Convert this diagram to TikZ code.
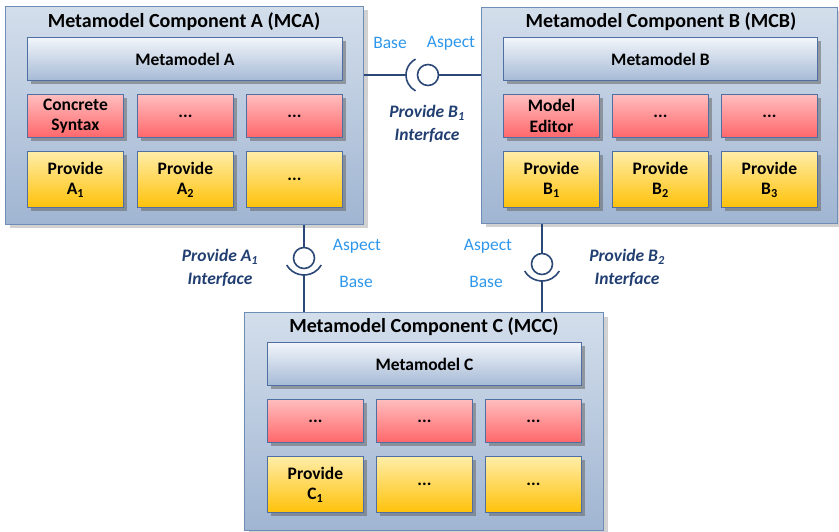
\documentclass[tikz,border=0pt]{standalone}
\usepackage{fontspec}
\setmainfont{Carlito}
\usetikzlibrary{shadows}
\definecolor{outertop}{HTML}{D3DEEB}
\definecolor{outerbot}{HTML}{A0B5D2}
\definecolor{outerline}{HTML}{6F8CB6}
\definecolor{innerline}{HTML}{4F6FA2}
\definecolor{mmtop}{HTML}{F2F5FA}
\definecolor{mmbot}{HTML}{A6BAD6}
\definecolor{redtop}{HTML}{FFBDBE}
\definecolor{redbot}{HTML}{FF676B}
\definecolor{yeltop}{HTML}{FFEDA8}
\definecolor{yelbot}{HTML}{FFC20A}
\definecolor{conn}{HTML}{2B4877}
\definecolor{lbl}{HTML}{2E97EC}
\definecolor{ifc}{HTML}{223F72}
\begin{document}
\begin{tikzpicture}[x=1pt,y=-1pt,
  box/.style={rectangle, anchor=north west, inner sep=0pt, align=center,
    font=\fontsize{17.5}{20.5}\selectfont\bfseries},
  outerbox/.style={box, draw=outerline, line width=1pt, top color=outertop, bottom color=outerbot,
    drop shadow={shadow xshift=4pt, shadow yshift=-4pt, fill=black!45, opacity=0.4}},
  mmbox/.style={box, draw=innerline, line width=0.9pt, top color=mmtop, bottom color=mmbot,
    minimum width=315pt, minimum height=43pt,
    drop shadow={shadow xshift=4pt, shadow yshift=-4pt, fill=black!60, opacity=0.55}},
  redbox/.style={box, draw=innerline, line width=0.9pt, top color=redtop, bottom color=redbot,
    minimum width=96pt, minimum height=43pt,
    drop shadow={shadow xshift=4pt, shadow yshift=-4pt, fill=black!60, opacity=0.55}},
  yelbox/.style={box, draw=innerline, line width=0.9pt, top color=yeltop, bottom color=yelbot,
    minimum width=96pt, minimum height=56pt,
    drop shadow={shadow xshift=4pt, shadow yshift=-4pt, fill=black!60, opacity=0.55}},
  title/.style={font=\fontsize{20}{24}\selectfont\bfseries, inner sep=0pt},
  conline/.style={draw=conn, line width=1.6pt},
  ball/.style={circle, draw=conn, line width=1.6pt, minimum size=21pt, inner sep=0pt, fill=white},
  lab/.style={text=lbl, font=\fontsize{17.5}{20}\selectfont, inner sep=0pt},
  iface/.style={text=ifc, font=\fontsize{17.5}{23}\selectfont\bfseries\itshape, align=center, inner sep=0pt}
]
\useasboundingbox (0,0) rectangle (839,532);

% ---------- Component A ----------
\node[outerbox, minimum width=358pt, minimum height=218pt] (A) at (5,6) {};
\node[title] (At) at (184,22) {Metamodel Component A (MCA)};
\node[mmbox] (Amm) at (27,37) {Metamodel A};
\node[redbox] (Ar1) at (27,94) {Concrete\\Syntax};
\node[redbox] (Ar2) at (137,94) {...};
\node[redbox] (Ar3) at (246,94) {...};
\node[yelbox] (Ay1) at (27,151) {Provide\\A\textsubscript{1}};
\node[yelbox] (Ay2) at (137,151) {Provide\\A\textsubscript{2}};
\node[yelbox] (Ay3) at (246,151) {...};

% ---------- Component B ----------
\node[outerbox, minimum width=356pt, minimum height=216pt] (B) at (481,7) {};
\node[title] (Bt) at (661,22) {Metamodel Component B (MCB)};
\node[mmbox, minimum width=314pt] (Bmm) at (503,37) {Metamodel B};
\node[redbox] (Br1) at (503,94) {Model\\Editor};
\node[redbox] (Br2) at (612,94) {...};
\node[redbox] (Br3) at (721,94) {...};
\node[yelbox] (By1) at (503,151) {Provide\\B\textsubscript{1}};
\node[yelbox] (By2) at (612,151) {Provide\\B\textsubscript{2}};
\node[yelbox] (By3) at (721,151) {\raisebox{2.5pt}{\parbox{90pt}{\centering Provide\\B\textsubscript{3}}}};

% ---------- Component C ----------
\node[outerbox, minimum width=359pt, minimum height=218pt] (C) at (244,312) {};
\node[title] (Ct) at (424,327) {Metamodel Component C (MCC)};
\node[mmbox, minimum width=314pt] (Cmm) at (267,342) {Metamodel C};
\node[redbox] (Cr1) at (267,399) {...};
\node[redbox] (Cr2) at (376,399) {...};
\node[redbox] (Cr3) at (485,399) {...};
\node[yelbox] (Cy1) at (267,456) {Provide\\C\textsubscript{1}};
\node[yelbox] (Cy2) at (376,456) {...};
\node[yelbox] (Cy3) at (485,456) {...};

% ---------- Interface A-B (horizontal) ----------
\node[ball] (bB) at (428,75) {};
\coordinate (sB) at (424,75);
\draw[conline] (A.east |- bB) -- ([shift={(180:18pt)}]sB);
\draw[conline] ([shift={(118:18pt)}]sB) arc[start angle=118, end angle=242, radius=18pt];
\draw[conline] (bB.east) -- (B.west |- bB);
\node[lab] (lBase1) at (390,43) {Base};
\node[lab] (lAsp1) at (451,43) {Aspect};
\node[iface] (iB1) at (427,124) {Provide B\textsubscript{1}\\Interface};

% ---------- Interface A-C (vertical) ----------
\node[ball] (bA) at (304,258) {};
\coordinate (sA) at (304,255);
\draw[conline] (bA |- A.south) -- (bA.north);
\draw[conline] ([shift={(210:20pt)}]sA) arc[start angle=210, end angle=330, radius=20pt];
\draw[conline] ([shift={(270:20pt)}]sA) -- (bA |- C.north);
\node[lab] (lAsp2) at (357,246) {Aspect};
\node[lab] (lBase2) at (356,282) {Base};
\node[iface] (iA1) at (220,268) {Provide A\textsubscript{1}\\Interface};

% ---------- Interface B-C (vertical) ----------
\node[ball] (bC) at (542,264) {};
\coordinate (sC) at (542,261);
\draw[conline] (bC |- B.south) -- (bC.north);
\draw[conline] ([shift={(210:20pt)}]sC) arc[start angle=210, end angle=330, radius=20pt];
\draw[conline] ([shift={(270:20pt)}]sC) -- (bC |- C.north);
\node[lab] (lAsp3) at (488,246) {Aspect};
\node[lab] (lBase3) at (486,282) {Base};
\node[iface] (iB2) at (627,268) {Provide B\textsubscript{2}\\Interface};
\end{tikzpicture}
\end{document}
